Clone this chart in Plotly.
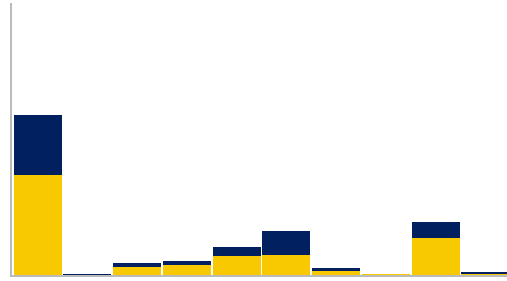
import plotly.graph_objects as go

categories = list(range(10))
yellow_values = [62.5, 0.0, 5.0, 6.2, 11.9, 12.5, 3.1, 0.6, 23.1, 1.2]
navy_values = [37.8, 0.6, 2.8, 2.8, 5.3, 15.3, 1.2, 0.0, 10.0, 0.9]

fig = go.Figure()
fig.add_trace(go.Bar(x=categories, y=yellow_values, marker=dict(color="#F8C800", line=dict(width=0)), width=0.965))
fig.add_trace(go.Bar(x=categories, y=navy_values, marker=dict(color="#00205F", line=dict(width=0)), width=0.965))

fig.update_layout(
    barmode="stack",
    width=507, height=281,
    margin=dict(l=12, r=0, t=3, b=6),
    showlegend=False,
    plot_bgcolor="white", paper_bgcolor="white",
    xaxis=dict(range=[-0.517, 9.433], showgrid=False, showticklabels=False, ticks="",
               showline=True, linecolor="#BBBBBB", linewidth=2, zeroline=False),
    yaxis=dict(range=[0, 170], showgrid=False, showticklabels=False, ticks="",
               showline=True, linecolor="#BBBBBB", linewidth=2, zeroline=False),
)
fig.write_html("out.html", config={"displayModeBar": False},
               post_script="document.body.style.margin='0';document.body.style.overflow='hidden';")
